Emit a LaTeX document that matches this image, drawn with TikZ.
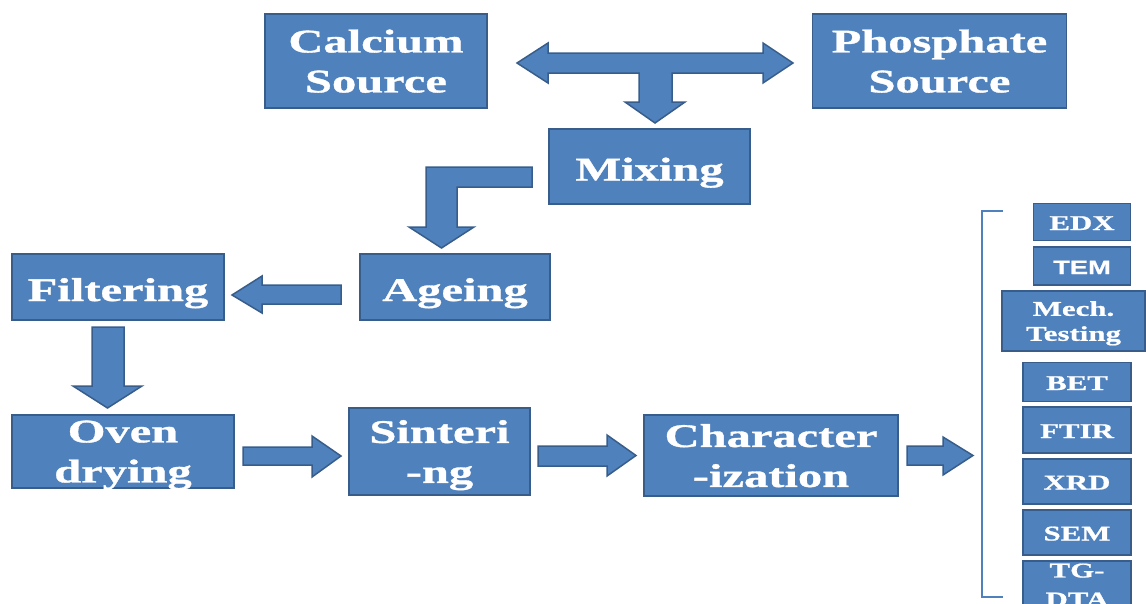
\documentclass[tikz,border=0pt]{standalone}
\usepackage{fontspec}
\newfontfamily\boxserif[FakeStretch=1.47,FakeBold=1]{Liberation Serif}
\newfontfamily\boxsans[FakeStretch=1.4,FakeBold=0.6]{Liberation Sans}
\definecolor{boxfill}{HTML}{4F81BD}
\definecolor{boxline}{HTML}{385D8A}
\begin{document}
\begin{tikzpicture}[x=1pt,y=-1pt,
  box/.style={draw=boxline, fill=boxfill, line width=1.5pt, text=white, inner sep=0pt, align=center,
    text depth=0pt, font=\boxserif\bfseries\fontsize{33}{40}\selectfont},
  oneline/.style={box, text height=28pt},
  small/.style={box, font=\boxserif\bfseries\fontsize{21}{25}\selectfont},
  smallone/.style={small, text height=16pt},
  blockarrow/.style={draw=boxline, fill=boxfill, line width=1.5pt, line join=miter},
  bracketline/.style={draw=boxfill, line width=1.2pt}
]
\useasboundingbox (0,0) rectangle (1146,603);
\clip (0,0) rectangle (1146,603);

% main boxes
\node[box, minimum width=222pt, minimum height=94pt] (calcium) at (376,61) {Calcium\\Source};
\node[box, minimum width=254pt, minimum height=94pt] (phosphate) at (939.5,61) {Phosphate\\Source};
\node[oneline, minimum width=201pt, minimum height=75pt] (mixing) at (649.5,166.5) {Mixing};
\node[oneline, minimum width=190pt, minimum height=66pt] (ageing) at (455,287) {Ageing};
\node[oneline, minimum width=212pt, minimum height=66pt] (filtering) at (118,287) {Filtering};
\node[box, minimum width=222pt, minimum height=73pt] (oven) at (123,451.5) {Oven\\drying};
\node[box, minimum width=181pt, minimum height=87pt] (sinter) at (439.5,451.5) {Sinteri\\-ng};
\node[box, minimum width=254pt, minimum height=81pt] (charac) at (771,455.5) {Character\\-ization};

% characterization methods
\node[smallone, minimum width=97pt, minimum height=37pt] (edx) at (1082,222) {EDX};
\node[smallone, minimum width=97pt, minimum height=38pt, font=\boxsans\bfseries\fontsize{19.5}{24}\selectfont] (tem) at (1082,266) {TEM};
\node[small, minimum width=143pt, minimum height=60pt] (mech) at (1073.5,321) {Mech.\\Testing};
\node[smallone, minimum width=108pt, minimum height=39pt] (bet) at (1077,382) {BET};
\node[smallone, minimum width=108pt, minimum height=46pt] (ftir) at (1077,430) {FTIR};
\node[smallone, minimum width=108pt, minimum height=45pt] (xrd) at (1077,481.5) {XRD};
\node[smallone, minimum width=108pt, minimum height=45pt] (sem) at (1077,532.5) {SEM};
\node[small, minimum width=108pt, minimum height=48pt, font=\boxserif\bfseries\fontsize{21}{29}\selectfont] (tgdta) at (1077,585) {TG-\\DTA};

% bracket
\coordinate (brtop) at (1003,211);
\coordinate (brbot) at (1003,597);
\draw[bracketline] (brtop) -- (982,211) -- (982,597) -- (brbot);

% block arrows
% T-arrow between sources, down to mixing
\draw[blockarrow] (517,63) -- (548,43) -- (548,53) -- (763,53) -- (763,43) -- (793,63)
  -- (763,83) -- (763,73) -- (672,73) -- (672,102) -- (685,102) -- (655,123)
  -- (625,102) -- (639,102) -- (639,73) -- (548,73) -- (548,83) -- cycle;
% mixing -> ageing (bent)
\draw[blockarrow] (532,167) -- (426,167) -- (426,227) -- (409,227) -- (441.5,248)
  -- (474,227) -- (457,227) -- (457,187) -- (532,187) -- cycle;
% ageing -> filtering
\draw[blockarrow] (232,295) -- (262,276) -- (262,285) -- (341,285) -- (341,304)
  -- (262,304) -- (262,313) -- cycle;
% filtering -> oven drying
\draw[blockarrow] (92,327) -- (124,327) -- (124,386) -- (142,386) -- (107.5,408)
  -- (73,386) -- (92,386) -- cycle;
% oven drying -> sintering
\draw[blockarrow] (243,447) -- (312,447) -- (312,436) -- (341,456) -- (312,477)
  -- (312,465) -- (243,465) -- cycle;
% sintering -> characterization
\draw[blockarrow] (538,446) -- (607,446) -- (607,435) -- (636,455.5) -- (607,476)
  -- (607,466) -- (538,466) -- cycle;
% characterization -> methods
\draw[blockarrow] (907,446) -- (943,446) -- (943,437) -- (973,455.5) -- (943,475)
  -- (943,465) -- (907,465) -- cycle;
\end{tikzpicture}
\end{document}
